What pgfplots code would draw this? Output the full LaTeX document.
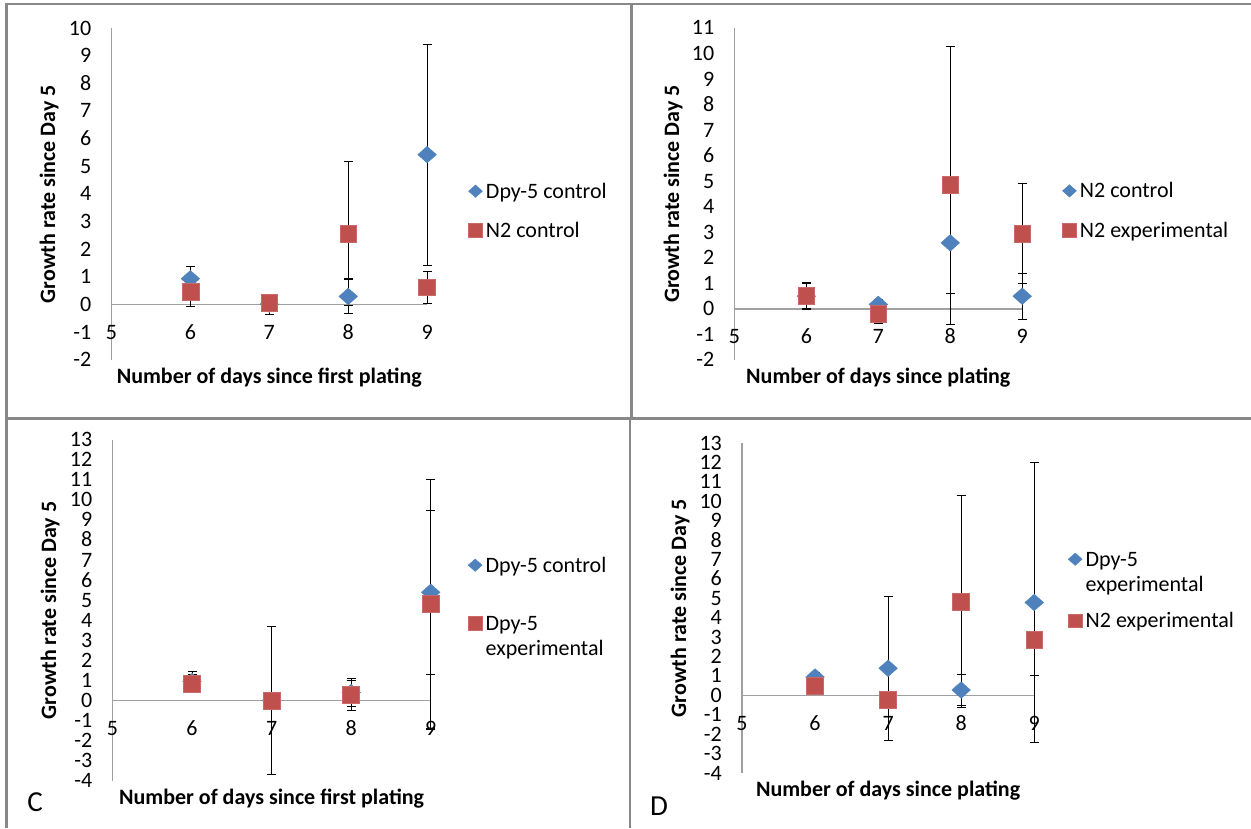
\documentclass[border=0pt]{standalone}
\usepackage{fontspec}
\setmainfont{Carlito}
\usepackage{pgfplots}
\pgfplotsset{compat=1.18}

\definecolor{xblue}{HTML}{4F81BD}
\definecolor{xred}{HTML}{C0504D}
\definecolor{framegray}{HTML}{888888}
\definecolor{axisgray}{HTML}{A0A0A0}
\newcommand\fs{\fontsize{22}{26}\selectfont}

% data: x, mean, error
\pgfplotstableread{
x y e
6 0.94 0.45
7 0.02 0.36
8 0.30 0.63
9 5.43 4.00
}\Ablue
\pgfplotstableread{
x y e
6 0.48 0.54
7 0.08 0.10
8 2.58 2.60
9 0.63 0.57
}\Ared
\pgfplotstableread{
x y e
6 0.50 0.50
7 0.18 0.20
8 2.59 1.98
9 0.50 0.90
}\Bblue
\pgfplotstableread{
x y e
6 0.53 0.50
7 -0.18 0.39
8 4.85 5.45
9 2.96 1.97
}\Bred
\pgfplotstableread{
x y e
6 0.95 0.48
7 0.00 0.00
8 0.40 0.70
9 5.40 4.10
}\Cblue
\pgfplotstableread{
x y e
6 0.85 0.45
7 0.00 3.70
8 0.27 0.75
9 4.81 6.23
}\Cred
\pgfplotstableread{
x y e
6 0.96 0.24
7 1.41 3.70
8 0.29 0.82
9 4.80 7.20
}\Dblue
\pgfplotstableread{
x y e
6 0.49 0.30
7 -0.23 0.15
8 4.84 5.46
9 2.89 1.86
}\Dred

\pgfplotsset{
  legend image code/.code={\draw[#1] plot coordinates {(0pt,0pt)};},
  panel/.style={
    anchor=south west,
    xmin=5, xmax=9,
    axis x line=middle, axis y line=left,
    axis line style={-, draw=axisgray, line width=1.2pt},
    major tick length=0pt,
    hide obscured x ticks=false, hide obscured y ticks=false,
    xtick={5,6,7,8,9}, ytick distance=1,
    tick label style={font=\fs, inner sep=0pt, text height=13.5pt, text depth=0pt},
    xticklabel style={anchor=north, yshift=-21pt},
    yticklabel style={anchor=east, xshift=-20pt},
    /pgf/number format/assume math mode=true,
    x label style={font=\fs\bfseries, anchor=center},
    y label style={font=\fs\bfseries, anchor=center},
    clip=false,
    legend cell align=left,
    legend style={draw=none, fill=none, inner sep=0pt, font=\fs,
      anchor=north west, column sep=3.5pt,
      nodes={inner sep=0pt, text height=14pt, text depth=0pt, anchor=west}},
  },
  ebars/.style={forget plot, only marks, mark=none,
    error bars/.cd, y dir=both, y explicit,
    error bar style={black, line width=1.1pt},
    error mark options={black, rotate=90, mark size=4.5pt, line width=1.1pt}},
  bmarks/.style={forget plot, only marks, mark=diamond*, mark size=8.3pt,
    mark options={xscale=1.5, draw=xblue, fill=xblue}},
  rmarks/.style={forget plot, only marks, mark=square*, mark size=8.4pt,
    mark options={draw=xred!85!white, fill=xred, line width=0.6pt}},
  blegend/.style={draw=none, mark=diamond*, mark size=6.2pt,
    mark options={xscale=1.5, draw=xblue, fill=xblue}},
  rlegend/.style={draw=none, mark=square*, mark size=6.8pt,
    mark options={draw=xred!85!white, fill=xred, line width=0.6pt}},
}

\begin{document}
\begin{tikzpicture}[x=1pt, y=1pt]
\useasboundingbox (0,0) rectangle (1251,828);

% panel frames
\draw[framegray, line width=2.6pt] (6,824) -- (1251,824);
\draw[framegray, line width=2.6pt] (6.5,825.3) -- (6.5,0);
\draw[framegray, line width=2.6pt] (6,409.7) -- (1251,409.7);
\draw[framegray, line width=2.6pt] (631.5,824) -- (631.5,409.7);
\draw[framegray, line width=2.6pt] (630,409.7) -- (630,0);

% A
\begin{axis}[panel, at={(111.5pt,468pt)}, x=78.9pt, y=27.64pt, ymin=-2, ymax=10,
    xlabel={Number of days since first plating},
    ylabel={Growth rate since Day 5},
    x label style={at={(axis description cs:0.5,-0.054)}},
    y label style={at={(axis description cs:-0.198,0.5)}},
    legend style={at={(axis description cs:1.1306,0.5306)}, row sep=25.3pt}]
  \addplot[ebars] table[x=x, y=y, y error=e] {\Ablue};
  \addplot[ebars] table[x=x, y=y, y error=e] {\Ared};
  \addplot[bmarks] table[x=x, y=y] {\Ablue};
  \addplot[rmarks] table[x=x, y=y] {\Ared};
  \addlegendimage{blegend}\addlegendentry{Dpy-5 control}
  \addlegendimage{rlegend}\addlegendentry{N2 control}
\end{axis}

% B
\begin{axis}[panel, at={(734.4pt,468pt)}, x=71.95pt, y=25.52pt, ymin=-2, ymax=11,
    xlabel={Number of days since plating},
    ylabel={Growth rate since Day 5},
    x label style={at={(axis description cs:0.5,-0.053)}},
    y label style={at={(axis description cs:-0.213,0.5)}},
    legend style={at={(axis description cs:1.1393,0.5315)}, row sep=25.3pt}]
  \addplot[ebars] table[x=x, y=y, y error=e] {\Bblue};
  \addplot[ebars] table[x=x, y=y, y error=e] {\Bred};
  \addplot[bmarks] table[x=x, y=y] {\Bblue};
  \addplot[rmarks] table[x=x, y=y] {\Bred};
  \addlegendimage{blegend}\addlegendentry{N2 control}
  \addlegendimage{rlegend}\addlegendentry{N2 experimental}
\end{axis}

% C
\begin{axis}[panel, at={(112.5pt,47.3pt)}, x=79.55pt, y=20.04pt, ymin=-4, ymax=13,
    xlabel={Number of days since first plating},
    ylabel={Growth rate since Day 5},
    x label style={at={(axis description cs:0.5,-0.0517)}},
    y label style={at={(axis description cs:-0.196,0.5)}},
    legend style={at={(axis description cs:1.1172,0.6537)}, row sep=44.3pt}]
  \addplot[ebars] table[x=x, y=y, y error=e] {\Cblue};
  \addplot[ebars] table[x=x, y=y, y error=e] {\Cred};
  \addplot[bmarks] table[x=x, y=y] {\Cblue};
  \addplot[rmarks] table[x=x, y=y] {\Cred};
  \addlegendimage{blegend}\addlegendentry{Dpy-5 control}
  \addlegendimage{rlegend}\addlegendentry{Dpy-5}
  \node[font=\fs, inner sep=0pt, text height=14pt, text depth=0pt, anchor=west]
    at (axis description cs:1.1722,0.3886) {experimental};
\end{axis}

% D
\begin{axis}[panel, at={(742pt,54.7pt)}, x=73.05pt, y=19.41pt, ymin=-4, ymax=13,
    xlabel={Number of days since plating},
    ylabel={Growth rate since Day 5},
    x label style={at={(axis description cs:0.5,-0.0536)}},
    y label style={at={(axis description cs:-0.212,0.5)}},
    legend style={at={(axis description cs:1.1157,0.6706)}, row sep=47.7pt}]
  \addplot[ebars] table[x=x, y=y, y error=e] {\Dblue};
  \addplot[ebars] table[x=x, y=y, y error=e] {\Dred};
  \addplot[bmarks] table[x=x, y=y] {\Dblue};
  \addplot[rmarks] table[x=x, y=y] {\Dred};
  \addlegendimage{blegend}\addlegendentry{Dpy-5}
  \addlegendimage{rlegend}\addlegendentry{N2 experimental}
  \node[font=\fs, inner sep=0pt, text height=14pt, text depth=0pt, anchor=west]
    at (axis description cs:1.1756,0.5727) {experimental};
\end{axis}

% panel letters
\node[font=\fontsize{29}{32}\selectfont] at (35,26) {C};
\node[font=\fontsize{29}{32}\selectfont] at (659,22) {D};
\end{tikzpicture}
\end{document}
